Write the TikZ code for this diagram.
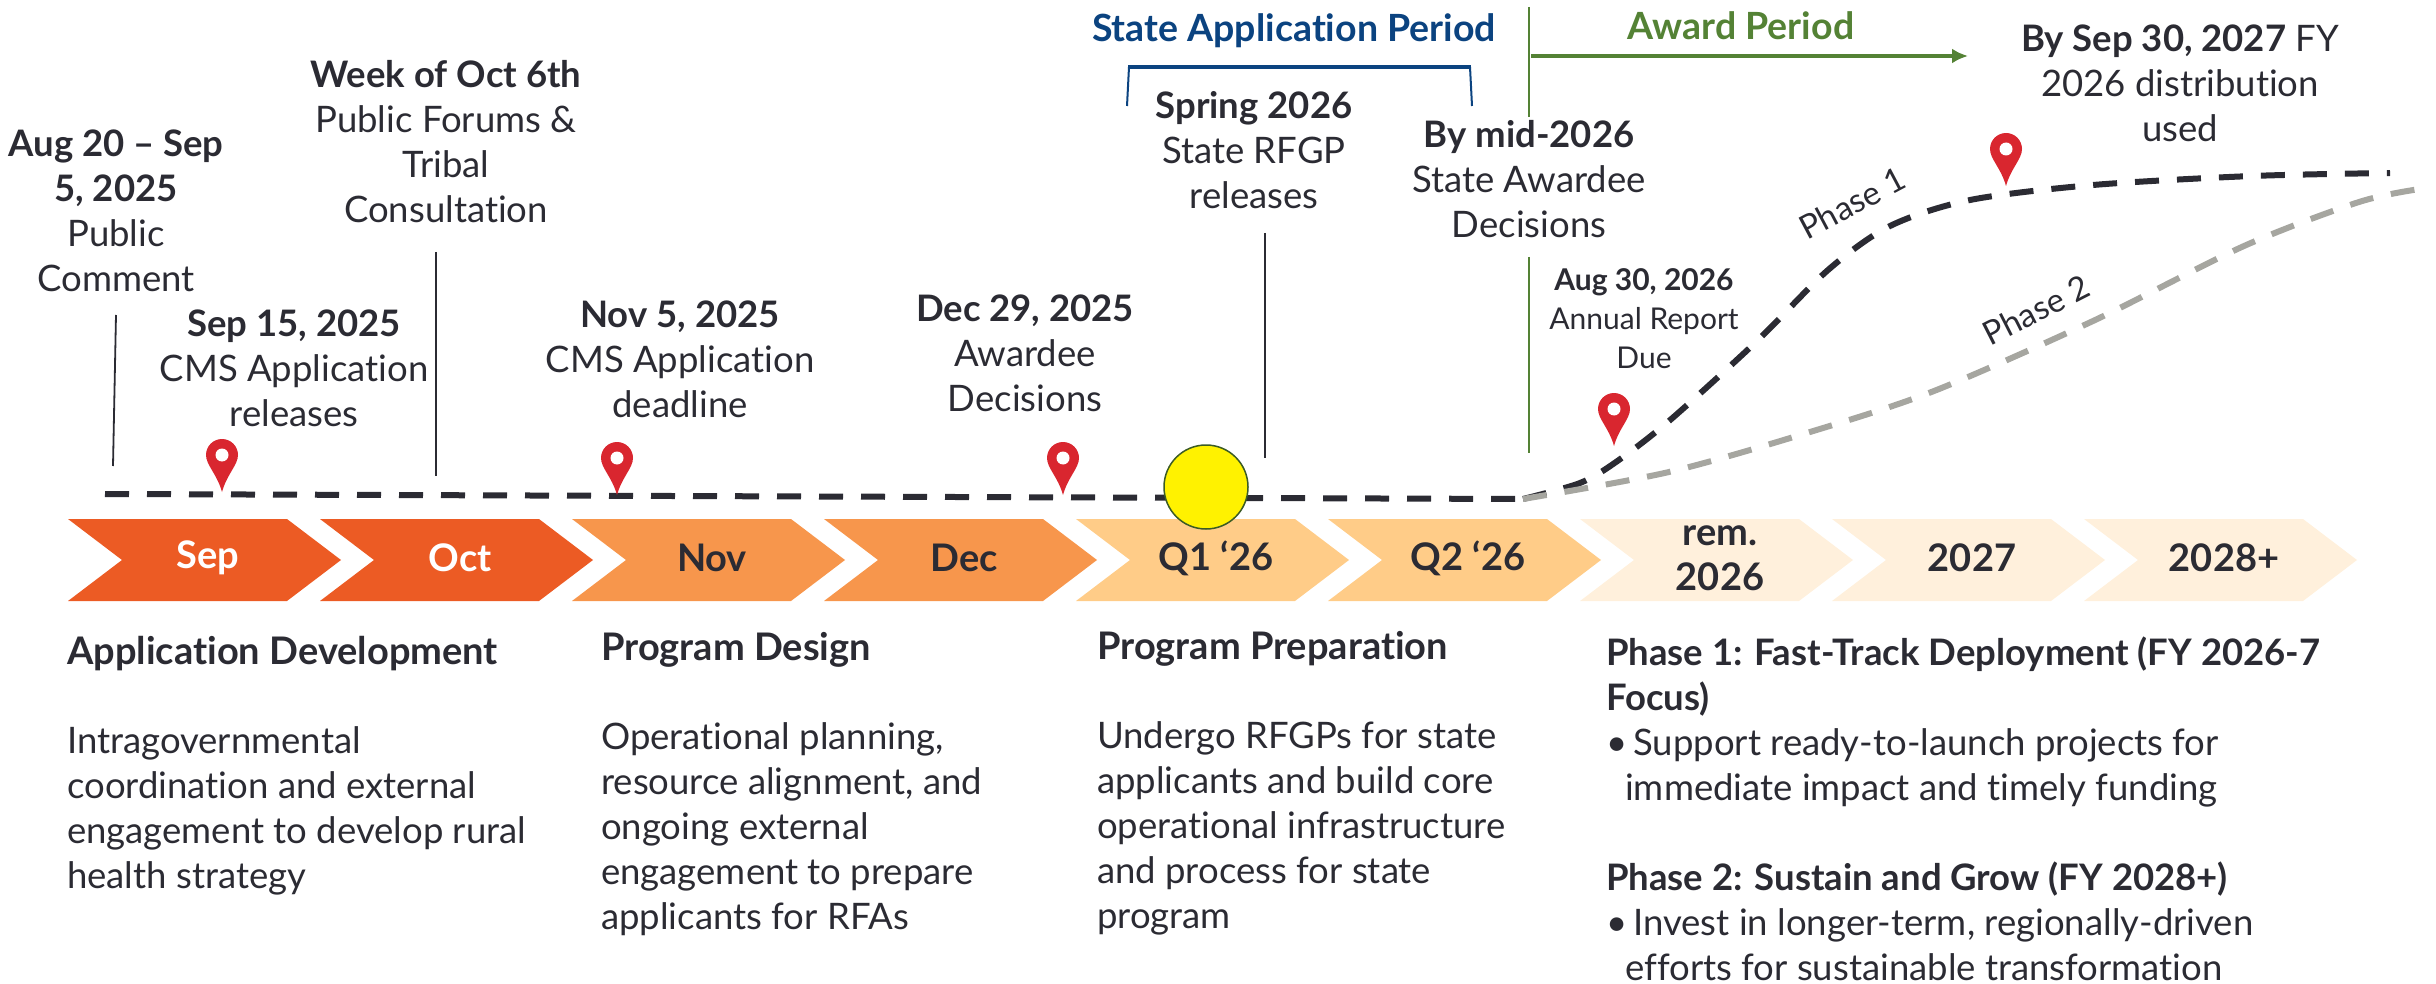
\documentclass[tikz,border=0pt]{standalone}
\usepackage{fontspec}
\usetikzlibrary{arrows.meta}
\setmainfont{Lato}[Ligatures=NoCommon]
\definecolor{inkdark}{HTML}{2B2B33}
\definecolor{orangeA}{HTML}{EC5B24}
\definecolor{orangeB}{HTML}{F7964C}
\definecolor{orangeC}{HTML}{FFCC88}
\definecolor{orangeD}{HTML}{FFF0DC}
\definecolor{pinred}{HTML}{D9262F}
\definecolor{stateblue}{HTML}{0B4380}
\definecolor{awardgreen}{HTML}{548235}
\definecolor{phasegray}{HTML}{A6A6A0}
\newcommand{\bodysize}{\fontsize{36.5}{45}\selectfont}
\newcommand{\colhead}[1]{{\fontsize{38}{45}\selectfont\bfseries #1}}
\begin{document}
\begin{tikzpicture}[x=1pt,y=-1pt,
    every node/.style={inner sep=0pt,text=inkdark},
    datelabel/.style={align=center,anchor=north,font=\bodysize},
    smalllabel/.style={align=center,anchor=north,font=\fontsize{30}{39}\selectfont},
    bodylabel/.style={align=left,anchor=north west,font=\bodysize},
    monthlabel/.style={align=center,font=\fontsize{38}{45}\selectfont\bfseries},
    periodlabel/.style={font=\fontsize{37.5}{42}\selectfont\bfseries},
    phaselabel/.style={font=\fontsize{33}{38}\selectfont},
    leader/.style={line width=1.8pt,inkdark},
    greenleader/.style={line width=1.8pt,awardgreen},
    phasedash/.style={line width=6pt,dash pattern=on 24pt off 18pt},
    pics/mappin/.style={code={
      \fill[pinred] (0,0) .. controls (-5,-18) and (-16,-27) .. (-16,-37)
        arc[start angle=180,end angle=360,radius=16] .. controls (16,-27) and (5,-18) .. (0,0);
      \fill[white] (0,-37) circle[radius=6.5];}}]
  \useasboundingbox (0,0) rectangle (2436,984);
  % chevrons
  \foreach \xa/\col/\txt/\tcol/\nm in {68/orangeA/Sep/white/sep,320/orangeA/Oct/white/oct,572/orangeB/Nov/inkdark/nov,824/orangeB/Dec/inkdark/dec,
      1076/orangeC/Q1 ‘26/inkdark/qone,1328/orangeC/Q2 ‘26/inkdark/qtwo,1580/orangeD/rem.\\2026/inkdark/rem,1832/orangeD/2027/inkdark/ysev,2084/orangeD/2028+/inkdark/yeig}{
    \fill[\col] (\xa,519) -- ++(219,0) -- ++(54,41) -- ++(-54,41) -- ++(-219,0) -- ++(54,-41) -- cycle;
    \node[monthlabel,text=\tcol] (\nm) at (\xa+140,558) {\txt};
  }
  % timeline
  \draw[phasedash,inkdark] (105,494) -- (1523,499);
  \draw[phasedash,inkdark] plot[smooth] coordinates {(1523,499) (1580,483) (1616,462) (1669,421) (1757,341) (1828,270) (1890,226) (1970,200) (2093,185) (2252,176) (2390,173)};
  \draw[phasedash,phasegray] plot[smooth] coordinates {(1523,499) (1669,472) (1810,432) (1934,391) (2093,321) (2244,246) (2359,202) (2420,189)};
  \node[circle,fill=yellow,draw=awardgreen!70!black,line width=1.5pt,minimum size=84pt] (kickoff) at (1206,487) {};
  % leaders
  \coordinate (lineAtop) at (116,315);
  \coordinate (lineAend) at (113,466);
  \coordinate (lineBtop) at (436,252);
  \coordinate (lineBend) at (436,476);
  \coordinate (lineCtop) at (1265,233);
  \coordinate (lineCend) at (1265,458);
  \draw[leader] (lineAtop) -- (lineAend);
  \draw[leader] (lineBtop) -- (lineBend);
  \draw[leader] (lineCtop) -- (lineCend);
  \coordinate (awardA) at (1529,7);
  \coordinate (awardB) at (1529,117);
  \coordinate (awardC) at (1529,257);
  \coordinate (awardD) at (1529,453);
  \coordinate (awardE) at (1968,56);
  \draw[greenleader] (awardA) -- (awardB);
  \draw[greenleader] (awardC) -- (awardD);
  \draw[-{Latex[length=16pt,width=15pt]},line width=3.5pt,awardgreen] (1531,56) -- (awardE);
  \draw[line width=2pt,stateblue] (1127,106) -- (1129,67);
  \draw[line width=2pt,stateblue] (1472,106) -- (1470,67);
  \draw[line width=4pt,stateblue] (1128,67) -- (1471,67);
  % pins
  \foreach \px/\py in {222/492,617/495,1063/495,1614/446,2006/186}
    \pic at (\px,\py) {mappin};
  % dates
  \node[datelabel] (pubcomment) at (116,130) {\textbf{Aug 20 – Sep}\\\textbf{5, 2025}\\Public\\Comment};
  \node[datelabel] (cmsrelease) at (294,310) {\textbf{Sep 15, 2025}\\CMS Application\\releases};
  \node[datelabel] (forums) at (446,60) {\textbf{Week of Oct 6th}\\Public Forums \&\\Tribal\\Consultation};
  \node[datelabel] (cmsdeadline) at (680,301) {\textbf{Nov 5, 2025}\\CMS Application\\deadline};
  \node[datelabel] (awardee) at (1025,295) {\textbf{Dec 29, 2025}\\Awardee\\Decisions};
  \node[datelabel] (stateRFGP) at (1254,91) {\textbf{Spring 2026}\\State RFGP\\releases};
  \node[datelabel] (stateaward) at (1529,120) {\textbf{By mid-2026}\\State Awardee\\Decisions};
  \node[smalllabel] (annual) at (1644,268) {\textbf{Aug 30, 2026}\\Annual Report\\Due};
  \node[datelabel] (fydist) at (2180,25) {\textbf{By Sep 30, 2027} FY\\2026 distribution\\used};
  \node[periodlabel,text=stateblue] (stateperiod) at (1294,31) {State Application Period};
  \node[periodlabel,text=awardgreen] (awardperiod) at (1741,26) {Award Period};
  \node[phaselabel,rotate=28] (phaseone) at (1852,203) {Phase 1};
  \node[phaselabel,rotate=27] (phasetwo) at (2036,310) {Phase 2};
  % columns below
  \node[bodylabel] (colA) at (67,636) {\colhead{Application Development}\\[44pt]Intragovernmental\\coordination and external\\engagement to develop rural\\health strategy};
  \node[bodylabel] (colB) at (601,632) {\colhead{Program Design}\\[44pt]Operational planning,\\resource alignment, and\\ongoing external\\engagement to prepare\\applicants for RFAs};
  \node[bodylabel] (colC) at (1097,631) {\colhead{Program Preparation}\\[44pt]Undergo RFGPs for state\\applicants and build core\\operational infrastructure\\and process for state\\program};
  \node[bodylabel] (colD) at (1606,637) {\textbf{Phase 1: Fast-Track Deployment (FY 2026-7}\\\textbf{Focus)}\\•\hspace{6pt}Support ready-to-launch projects for\\\hspace*{19pt}immediate impact and timely funding\\[45pt]\textbf{Phase 2: Sustain and Grow (FY 2028+)}\\•\hspace{6pt}Invest in longer-term, regionally-driven\\\hspace*{19pt}efforts for sustainable transformation};
\end{tikzpicture}
\end{document}
